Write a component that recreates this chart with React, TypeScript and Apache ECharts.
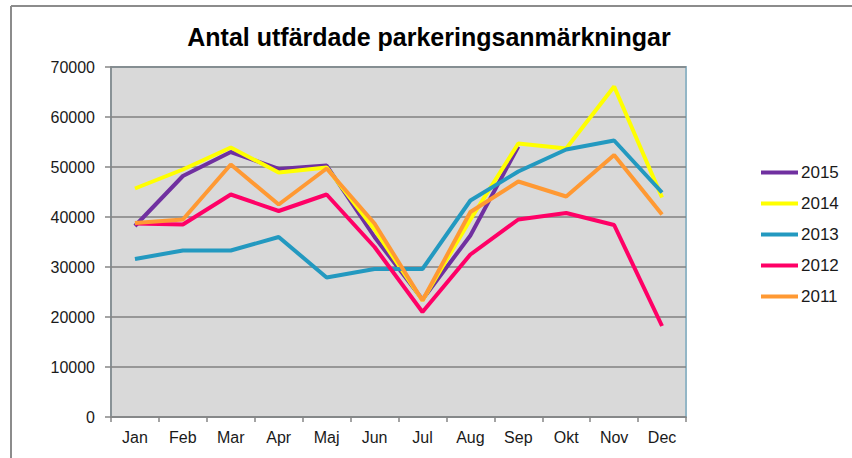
import React, { useEffect, useRef } from "react";
import * as echarts from "echarts";

const months = ["Jan", "Feb", "Mar", "Apr", "Maj", "Jun", "Jul", "Aug", "Sep", "Okt", "Nov", "Dec"];
const seriesNames = ["2015", "2014", "2013", "2012", "2011"];
const v2015 = [38200, 48200, 53000, 49600, 50300, 36000, 23500, 36300, 54100, null, null, null];
const v2014 = [45700, 49500, 53900, 48900, 49900, 37500, 23300, 39500, 54700, 53700, 66100, 43900];
const v2013 = [31600, 33300, 33300, 36000, 27900, 29600, 29600, 43300, 49100, 53500, 55300, 44900];
const v2012 = [38700, 38500, 44500, 41200, 44500, 34000, 21000, 32500, 39500, 40800, 38400, 18200];
const v2011 = [38800, 39500, 50500, 42500, 49700, 38700, 23300, 41000, 47100, 44100, 52400, 40500];
const seriesData = [v2015, v2014, v2013, v2012, v2011];
const colors = ["#7030a0", "#ffff00", "#2399c0", "#ff0066", "#ff9933"];

const FONT = "'Liberation Sans', Arial, sans-serif";

export default function App() {
  const ref = useRef<HTMLDivElement>(null);
  useEffect(() => {
    if (!ref.current) return;
    const chart = echarts.init(ref.current, undefined, { renderer: "svg" });
    chart.setOption({
      animation: false,
      backgroundColor: "#ffffff",
      title: {
        text: "Antal utfärdade parkeringsanmärkningar",
        left: 424,
        textAlign: "center",
        top: 19,
        textStyle: { fontFamily: FONT, fontSize: 25, fontWeight: "bold", color: "#000" },
      },
      legend: {
        orient: "vertical",
        left: 756,
        top: 159,
        itemWidth: 37,
        itemHeight: 4,
        itemGap: 14,
        icon: "rect",
        textStyle: { fontFamily: FONT, fontSize: 17, lineHeight: 16, color: "#1a1a1a", padding: [0, 0, 0, -2] },
        data: seriesNames,
      },
      grid: {
        left: 111,
        top: 67,
        width: 575,
        height: 350,
        show: true,
        backgroundColor: "#d9d9d9",
        borderColor: "#93b6c6",
        borderWidth: 2,
      },
      xAxis: {
        type: "category",
        data: months,
        boundaryGap: true,
        axisLine: { lineStyle: { color: "#868686", width: 1.5 } },
        axisTick: { show: true, length: 5, lineStyle: { color: "#868686", width: 1.5 } },
        axisLabel: { fontFamily: FONT, fontSize: 16, color: "#1a1a1a", margin: 12 },
      },
      yAxis: {
        type: "value",
        min: 0,
        max: 70000,
        interval: 10000,
        axisLine: { show: true, lineStyle: { color: "#868686", width: 1.5 } },
        axisTick: { show: true, length: 6, lineStyle: { color: "#868686", width: 1.5 } },
        axisLabel: {
          fontFamily: FONT,
          fontSize: 16,
          color: "#1a1a1a",
          margin: 16,
          formatter: (v: number) => String(v),
        },
        splitLine: { show: true, lineStyle: { color: "#808080", width: 1.5 } },
      },
      series: seriesNames.map((name, i) => ({
        name,
        type: "line",
        data: seriesData[i],
        color: colors[i],
        showSymbol: false,
        symbol: "none",
        lineStyle: { width: 4, color: colors[i] },
        connectNulls: false,
        z: 2 + i,
      })),
      graphic: [
        { type: "line", shape: { x1: 11, y1: 6, x2: 11, y2: 458 }, style: { stroke: "#8c8c8c", lineWidth: 2 } },
        { type: "line", shape: { x1: 11, y1: 6, x2: 852, y2: 6 }, style: { stroke: "#8c8c8c", lineWidth: 2 } },
      ],
    });
    return () => chart.dispose();
  }, []);
  return (
    <div
      ref={ref}
      style={{ position: "fixed", left: 0, top: 0, width: 852, height: 458 }}
    />
  );
}
